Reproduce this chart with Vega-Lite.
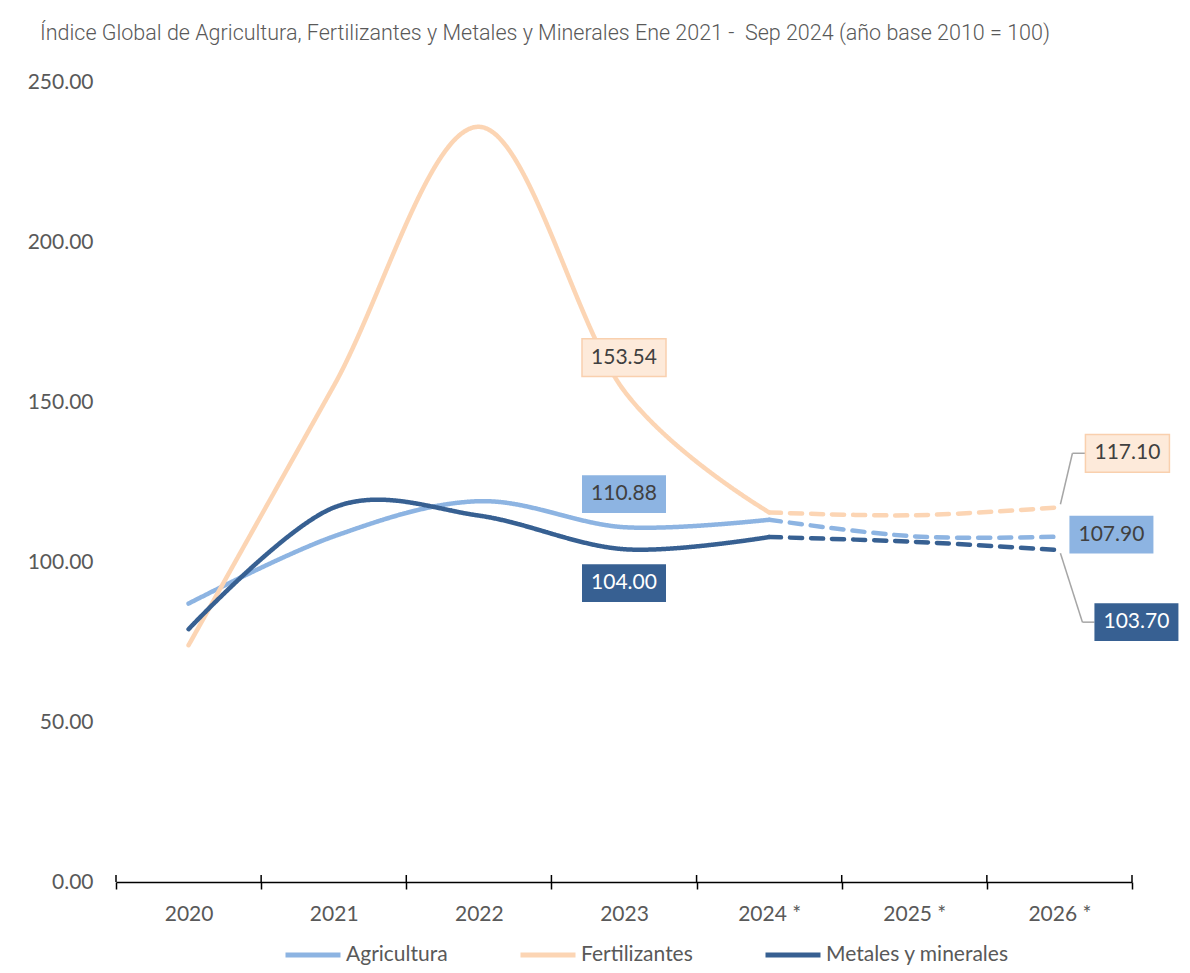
{
  "$schema": "https://vega.github.io/schema/vega-lite/v6.json",
  "width": 1016,
  "height": 800,
  "autosize": {"type": "none"},
  "padding": {"left": 116, "top": 82, "right": 58, "bottom": 91},
  "background": "#ffffff",
  "config": {"view": {"stroke": null}},
  "title": {
    "text": "Índice Global de Agricultura, Fertilizantes y Metales y Minerales Ene 2021 - \u00a0Sep 2024 (año base 2010 = 100)",
    "anchor": "start",
    "frame": "group",
    "dx": -76,
    "offset": 10,
    "baseline": "alphabetic",
    "font": "Roboto",
    "fontWeight": 300,
    "fontSize": 21.5,
    "color": "#595959"
  },
  "data": {
    "values": [
      {"series": "Agricultura", "year": 2020, "value": 87.0, "seg": "a"},
      {"series": "Agricultura", "year": 2021, "value": 108.0, "seg": "a"},
      {"series": "Agricultura", "year": 2022, "value": 119.0, "seg": "a"},
      {"series": "Agricultura", "year": 2023, "value": 110.88, "seg": "a"},
      {"series": "Agricultura", "year": 2024, "value": 113.2, "seg": "a"},
      {"series": "Agricultura", "year": 2024, "value": 113.2, "seg": "p"},
      {"series": "Agricultura", "year": 2025, "value": 108.0, "seg": "p"},
      {"series": "Agricultura", "year": 2026, "value": 107.9, "seg": "p"},
      {"series": "Fertilizantes", "year": 2020, "value": 74.0, "seg": "a"},
      {"series": "Fertilizantes", "year": 2021, "value": 155.0, "seg": "a"},
      {"series": "Fertilizantes", "year": 2022, "value": 236.0, "seg": "a"},
      {"series": "Fertilizantes", "year": 2023, "value": 153.54, "seg": "a"},
      {"series": "Fertilizantes", "year": 2024, "value": 115.5, "seg": "a"},
      {"series": "Fertilizantes", "year": 2024, "value": 115.5, "seg": "p"},
      {"series": "Fertilizantes", "year": 2025, "value": 114.6, "seg": "p"},
      {"series": "Fertilizantes", "year": 2026, "value": 117.1, "seg": "p"},
      {"series": "Metales y minerales", "year": 2020, "value": 79.0, "seg": "a"},
      {"series": "Metales y minerales", "year": 2021, "value": 117.0, "seg": "a"},
      {"series": "Metales y minerales", "year": 2022, "value": 114.5, "seg": "a"},
      {"series": "Metales y minerales", "year": 2023, "value": 104.0, "seg": "a"},
      {"series": "Metales y minerales", "year": 2024, "value": 107.8, "seg": "a"},
      {"series": "Metales y minerales", "year": 2024, "value": 107.8, "seg": "p"},
      {"series": "Metales y minerales", "year": 2025, "value": 106.3, "seg": "p"},
      {"series": "Metales y minerales", "year": 2026, "value": 103.7, "seg": "p"}
    ]
  },
  "encoding": {
    "x": {
      "field": "year",
      "type": "quantitative",
      "scale": {"domain": [2019.5, 2026.5], "nice": false, "zero": false},
      "axis": {
        "title": null,
        "values": [2019.5, 2020.5, 2021.5, 2022.5, 2023.5, 2024.5, 2025.5, 2026.5],
        "labelExpr": "datum.value > 2026 ? '' : (datum.value + 0.5 >= 2024 ? (datum.value + 0.5) + ' *' : '' + (datum.value + 0.5))",
        "labelOffset": 72.57,
        "labelAlign": "center",
        "labelBound": false,
        "labelOverlap": false,
        "labelFlush": false,
        "ticks": true,
        "tickSize": 7,
        "tickWidth": 1.5,
        "tickColor": "#000000",
        "grid": false,
        "domainColor": "#000000",
        "domainWidth": 1.5,
        "labelFont": "Lato",
        "labelFontSize": 21,
        "labelColor": "#595959",
        "labelPadding": 14
      }
    },
    "y": {
      "field": "value",
      "type": "quantitative",
      "scale": {"domain": [0, 250], "nice": false},
      "axis": {
        "title": null,
        "values": [0, 50, 100, 150, 200, 250],
        "format": ".2f",
        "domain": false,
        "ticks": false,
        "tickSize": 0,
        "grid": false,
        "labelFont": "Lato",
        "labelFontSize": 21,
        "labelColor": "#595959",
        "labelPadding": 23
      }
    }
  },
  "layer": [
    {
      "mark": {"type": "line", "interpolate": "cardinal", "strokeWidth": 4.5, "strokeCap": "round"},
      "encoding": {
        "color": {
          "field": "series",
          "type": "nominal",
          "scale": {
            "domain": ["Agricultura", "Fertilizantes", "Metales y minerales"],
            "range": ["#8DB4E2", "#FCD5B4", "#376092"]
          },
          "legend": {
            "title": null,
            "orient": "none",
            "direction": "horizontal",
            "legendX": 167,
            "legendY": 843,
            "padding": 0,
            "symbolType": "stroke",
            "symbolSize": 3025,
            "symbolStrokeWidth": 5,
            "labelFont": "Lato",
            "labelFontSize": 21,
            "labelColor": "#595959",
            "labelOffset": 3,
            "labelLimit": 0,
            "columnPadding": 62
          }
        },
        "strokeDash": {
          "field": "seg",
          "type": "nominal",
          "scale": {"domain": ["a", "p"], "range": [[1, 0], [12, 9]]},
          "legend": null
        }
      }
    },
    {
      "transform": [{"filter": "datum.series == 'Agricultura' && datum.seg == 'a' || datum.series == 'Agricultura' && datum.year > 2024"}],
      "mark": {"type": "rule", "color": "#000000", "strokeWidth": 1.5, "xOffset": -72.57, "yOffset": -7},
      "encoding": {"y": {"datum": 0}, "y2": {"datum": 0}}
    },
    {
      "transform": [{"filter": "datum.series == 'Agricultura' && datum.year == 2026"}],
      "mark": {"type": "rule", "color": "#000000", "strokeWidth": 1.5, "xOffset": 72.57, "yOffset": -7},
      "encoding": {"y": {"datum": 0}, "y2": {"datum": 0}}
    },
    {
      "transform": [{"filter": "datum.series == 'Fertilizantes' && datum.year == 2026"}],
      "mark": {"type": "rule", "color": "#A6A6A6", "strokeWidth": 1.5, "xOffset": 1, "yOffset": -3, "x2Offset": 13, "y2Offset": -54},
      "encoding": {"x2": {"field": "year"}, "y2": {"field": "value"}}
    },
    {
      "transform": [{"filter": "datum.series == 'Fertilizantes' && datum.year == 2026"}],
      "mark": {"type": "rule", "color": "#A6A6A6", "strokeWidth": 1.5, "xOffset": 13, "yOffset": -54, "x2Offset": 26, "y2Offset": -54},
      "encoding": {"x2": {"field": "year"}, "y2": {"field": "value"}}
    },
    {
      "transform": [{"filter": "datum.series == 'Metales y minerales' && datum.year == 2026"}],
      "mark": {"type": "rule", "color": "#A6A6A6", "strokeWidth": 1.5, "xOffset": 1, "yOffset": 3, "x2Offset": 23, "y2Offset": 72},
      "encoding": {"x2": {"field": "year"}, "y2": {"field": "value"}}
    },
    {
      "transform": [{"filter": "datum.series == 'Metales y minerales' && datum.year == 2026"}],
      "mark": {"type": "rule", "color": "#A6A6A6", "strokeWidth": 1.5, "xOffset": 23, "yOffset": 72, "x2Offset": 35, "y2Offset": 72},
      "encoding": {"x2": {"field": "year"}, "y2": {"field": "value"}}
    },
    {
      "transform": [{"filter": "datum.series == 'Fertilizantes' && datum.year == 2023"}],
      "mark": {"type": "point", "shape": "M-1,-0.45H1V0.45H-1Z", "size": 7056, "filled": true, "fill": "#FDEADA", "stroke": "#F9D0AE", "strokeWidth": 1.5, "opacity": 1, "yOffset": -33}
    },
    {
      "transform": [{"filter": "datum.series == 'Agricultura' && datum.year == 2023"}],
      "mark": {"type": "point", "shape": "M-1,-0.45H1V0.45H-1Z", "size": 7056, "filled": true, "fill": "#8DB4E2", "strokeWidth": 0, "opacity": 1, "yOffset": -33}
    },
    {
      "transform": [{"filter": "datum.series == 'Metales y minerales' && datum.year == 2023"}],
      "mark": {"type": "point", "shape": "M-1,-0.45H1V0.45H-1Z", "size": 7056, "filled": true, "fill": "#376092", "strokeWidth": 0, "opacity": 1, "yOffset": 34}
    },
    {
      "transform": [{"filter": "datum.series == 'Fertilizantes' && datum.year == 2026"}],
      "mark": {"type": "point", "shape": "M-1,-0.45H1V0.45H-1Z", "size": 7056, "filled": true, "fill": "#FDEADA", "stroke": "#F9D0AE", "strokeWidth": 1.5, "opacity": 1, "xOffset": 68, "yOffset": -54}
    },
    {
      "transform": [{"filter": "datum.series == 'Agricultura' && datum.year == 2026"}],
      "mark": {"type": "point", "shape": "M-1,-0.45H1V0.45H-1Z", "size": 7056, "filled": true, "fill": "#8DB4E2", "strokeWidth": 0, "opacity": 1, "xOffset": 52, "yOffset": -2}
    },
    {
      "transform": [{"filter": "datum.series == 'Metales y minerales' && datum.year == 2026"}],
      "mark": {"type": "point", "shape": "M-1,-0.45H1V0.45H-1Z", "size": 7056, "filled": true, "fill": "#376092", "strokeWidth": 0, "opacity": 1, "xOffset": 77, "yOffset": 72}
    },
    {
      "transform": [{"filter": "datum.series == 'Fertilizantes' && datum.year == 2023"}],
      "mark": {"type": "text", "font": "Lato", "fontSize": 21, "color": "#404040", "baseline": "middle", "align": "center", "yOffset": -33},
      "encoding": {"text": {"field": "value", "type": "quantitative", "format": ".2f"}}
    },
    {
      "transform": [{"filter": "datum.series == 'Agricultura' && datum.year == 2023"}],
      "mark": {"type": "text", "font": "Lato", "fontSize": 21, "color": "#404040", "baseline": "middle", "align": "center", "yOffset": -33},
      "encoding": {"text": {"field": "value", "type": "quantitative", "format": ".2f"}}
    },
    {
      "transform": [{"filter": "datum.series == 'Metales y minerales' && datum.year == 2023"}],
      "mark": {"type": "text", "font": "Lato", "fontSize": 21, "color": "#FFFFFF", "baseline": "middle", "align": "center", "yOffset": 34},
      "encoding": {"text": {"field": "value", "type": "quantitative", "format": ".2f"}}
    },
    {
      "transform": [{"filter": "datum.series == 'Fertilizantes' && datum.year == 2026"}],
      "mark": {"type": "text", "font": "Lato", "fontSize": 21, "color": "#404040", "baseline": "middle", "align": "center", "xOffset": 68, "yOffset": -54},
      "encoding": {"text": {"field": "value", "type": "quantitative", "format": ".2f"}}
    },
    {
      "transform": [{"filter": "datum.series == 'Agricultura' && datum.year == 2026"}],
      "mark": {"type": "text", "font": "Lato", "fontSize": 21, "color": "#404040", "baseline": "middle", "align": "center", "xOffset": 52, "yOffset": -2},
      "encoding": {"text": {"field": "value", "type": "quantitative", "format": ".2f"}}
    },
    {
      "transform": [{"filter": "datum.series == 'Metales y minerales' && datum.year == 2026"}],
      "mark": {"type": "text", "font": "Lato", "fontSize": 21, "color": "#FFFFFF", "baseline": "middle", "align": "center", "xOffset": 77, "yOffset": 72},
      "encoding": {"text": {"field": "value", "type": "quantitative", "format": ".2f"}}
    }
  ]
}
